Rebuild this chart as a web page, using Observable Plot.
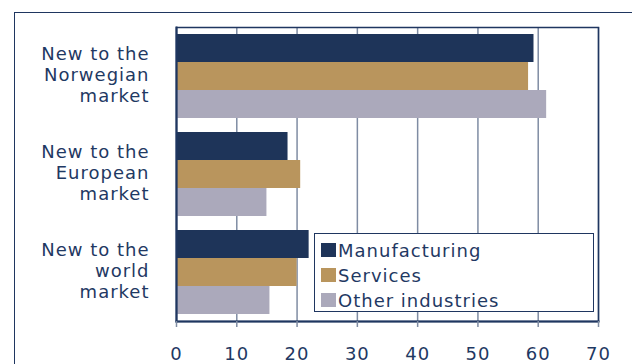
<!DOCTYPE html>
<html>
<head>
<meta charset="utf-8">
<script src="https://cdn.jsdelivr.net/npm/d3@7"></script>
<script src="https://cdn.jsdelivr.net/npm/@observablehq/plot@0.6"></script>
<style>
  html, body { margin: 0; padding: 0; background: #fff; }
  #wrap { position: relative; width: 632px; height: 364px; overflow: hidden; font-family: "DejaVu Sans", sans-serif; }
  #outer { position: absolute; left: 14px; top: 12px; width: 700px; height: 400px; border-left: 1.6px solid #1f3660; border-top: 1.6px solid #1f3660; }
  #chart { position: absolute; left: 0; top: 0; }
  #chart svg text { letter-spacing: 1px; }
  #legend { position: absolute; left: 314px; top: 233px; width: 280px; height: 79px; background: #fff; border: 1.5px solid #1f3660; box-sizing: border-box; }
  .row { position: absolute; left: 6px; height: 24px; display: flex; align-items: center; color: #1f3963; font-size: 18px; letter-spacing: 1px; }
  .sw { width: 15px; height: 14px; margin-right: 2px; }
</style>
</head>
<body>
<div id="wrap">
  <div id="outer"></div>
  <div id="chart"></div>
  <div id="legend"></div>
</div>
<script>
const categories = ["New to the\nNorwegian\nmarket", "New to the\nEuropean\nmarket", "New to the\nworld\nmarket"];
const series = ["Manufacturing", "Services", "Other industries"];
const manufacturing = [59.3, 18.5, 22.0];
const services = [58.4, 20.6, 20.0];
const otherIndustries = [61.4, 15.0, 15.5];
const colors = ["#1e3459", "#b9955d", "#aba9bb"];
const xTicks = [0, 10, 20, 30, 40, 50, 60, 70];

const valuesBySeries = [manufacturing, services, otherIndustries];
const data = [];
categories.forEach((c, i) => {
  series.forEach((s, j) => data.push({category: c, series: s, value: valuesBySeries[j][i]}));
});

const navy = "#1f3660";
const grid = "#7f8ca3";

const chart = Plot.plot({
  width: 632,
  height: 364,
  marginLeft: 176,
  marginRight: 34,
  marginTop: 26,
  marginBottom: 42,
  style: {fontFamily: "DejaVu Sans, sans-serif", fontSize: "18px", color: "#1f3963", background: "transparent"},
  x: {domain: [0, 70], ticks: xTicks},
  y: {domain: series, paddingInner: 0, paddingOuter: 0.231, axis: null},
  fy: {domain: categories, padding: 0},
  color: {domain: series, range: colors},
  marks: [
    Plot.gridX(xTicks, {stroke: grid, strokeOpacity: 1, strokeWidth: 1.5}),
    Plot.barX(data, {fy: "category", y: "series", x: "value", fill: "series", inset: 0}),
    Plot.frame({facet: "super", stroke: navy, strokeWidth: 1.5}),
    Plot.frame({facet: "super", anchor: "bottom", stroke: navy, strokeWidth: 2}),
    Plot.frame({facet: "super", anchor: "left", stroke: navy, strokeWidth: 2}),
    Plot.axisX(xTicks, {anchor: "bottom", tickSize: 6, tickPadding: 20, stroke: grid, strokeWidth: 1.5, label: null, fill: "#1f3963", fontSize: 18}),
    Plot.axisFy({anchor: "left", tickSize: 0, tickPadding: 27, label: null, lineHeight: 1.17, fill: "#1f3963", fontSize: 18, dy: -2})
  ]
});
document.getElementById("chart").appendChild(chart);

const legend = document.getElementById("legend");
series.forEach((s, i) => {
  const row = document.createElement("div");
  row.className = "row";
  row.style.top = (4 + i * 25) + "px";
  const sw = document.createElement("div");
  sw.className = "sw";
  sw.style.background = colors[i];
  const t = document.createElement("span");
  t.textContent = s;
  row.appendChild(sw);
  row.appendChild(t);
  legend.appendChild(row);
});
</script>
</body>
</html>
